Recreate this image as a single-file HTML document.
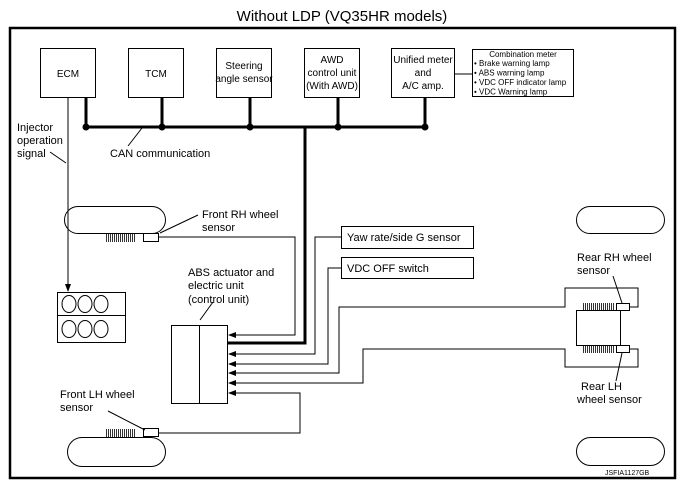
<!DOCTYPE html>
<html><head><style>
html,body{margin:0;padding:0;background:#fff;}
svg{display:block;font-family:"Liberation Sans",Arial,sans-serif;}
</style></head><body>
<svg width="685" height="489" viewBox="0 0 685 489" xmlns="http://www.w3.org/2000/svg">
<defs><marker id="ar" markerWidth="8" markerHeight="6" refX="7" refY="3" orient="auto" markerUnits="userSpaceOnUse"><path d="M0,0 L8,3 L0,6z" fill="#000"/></marker></defs>
<text x="342" y="21" font-size="15" text-anchor="middle">Without LDP (VQ35HR models)</text>
<rect x="10" y="28" width="665" height="450" fill="none" stroke="#000" stroke-width="2.5"/>
<g fill="#fff" stroke="#000" stroke-width="1">
<rect x="40.5" y="48.5" width="55" height="49"/>
<rect x="128.5" y="48.5" width="55" height="49"/>
<rect x="216.5" y="48.5" width="55" height="49"/>
<rect x="304.5" y="48.5" width="55" height="49"/>
<rect x="391.5" y="48.5" width="63" height="49"/>
<rect x="472.5" y="49.5" width="101" height="47"/>
</g>
<g font-size="10" text-anchor="middle">
<text x="68" y="77">ECM</text>
<text x="156" y="77">TCM</text>
<text x="244" y="69">Steering</text><text x="244" y="82">angle sensor</text>
<text x="332" y="63">AWD</text><text x="332" y="76">control unit</text><text x="332" y="89">(With AWD)</text>
<text x="423" y="63">Unified meter</text><text x="423" y="76">and</text><text x="423" y="89">A/C amp.</text>
</g>
<g font-size="8">
<text x="523" y="57" text-anchor="middle">Combination meter</text>
<text x="474" y="66">• Brake warning lamp</text>
<text x="474" y="75.5">• ABS warning lamp</text>
<text x="474" y="85">• VDC OFF indicator lamp</text>
<text x="474" y="94.5">• VDC Warning lamp</text>
</g>
<line x1="455" y1="74" x2="472" y2="74" stroke="#000"/>
<g stroke="#000" stroke-width="3" fill="none">
<line x1="86" y1="127" x2="425" y2="127"/>
<line x1="86" y1="97" x2="86" y2="127"/>
<line x1="162" y1="97" x2="162" y2="127"/>
<line x1="250" y1="97" x2="250" y2="127"/>
<line x1="338" y1="97" x2="338" y2="127"/>
<line x1="425" y1="97" x2="425" y2="127"/>
<polyline points="305,127 305,343 227,343"/>
</g>
<g fill="#000"><circle cx="86" cy="127" r="3.5"/><circle cx="162" cy="127" r="3.5"/><circle cx="250" cy="127" r="3.5"/><circle cx="338" cy="127" r="3.5"/><circle cx="425" cy="127" r="3.5"/></g>
<g font-size="11">
<text x="17" y="131">Injector</text><text x="17" y="144">operation</text><text x="17" y="157">signal</text>
<text x="110" y="157">CAN communication</text>
<text x="202" y="218">Front RH wheel</text><text x="202" y="231">sensor</text>
<text x="188" y="276">ABS actuator and</text><text x="188" y="289">electric unit</text><text x="188" y="303">(control unit)</text>
<text x="60" y="398">Front LH wheel</text><text x="60" y="411">sensor</text>
<text x="577" y="261">Rear RH wheel</text><text x="577" y="274">sensor</text>
<text x="581" y="390">Rear LH</text><text x="577" y="403">wheel sensor</text>
<text x="347" y="241">Yaw rate/side G sensor</text>
<text x="347" y="272">VDC OFF switch</text>
</g>
<text x="605" y="475" font-size="7">JSFIA1127GB</text>
<g stroke="#000" stroke-width="1" fill="none">
<line x1="50" y1="152" x2="66" y2="163"/>
<line x1="128" y1="146" x2="142" y2="128"/>
<line x1="68" y1="97" x2="68" y2="291" marker-end="url(#ar)"/>
<rect x="57.5" y="292.5" width="68" height="50" fill="#fff"/>
<line x1="57.5" y1="315.5" x2="125.5" y2="315.5"/>
<ellipse cx="69" cy="304" rx="7" ry="8.5"/><ellipse cx="85" cy="304" rx="7" ry="8.5"/><ellipse cx="101" cy="304" rx="7" ry="8.5"/>
<ellipse cx="69" cy="329" rx="7" ry="8.5"/><ellipse cx="85" cy="329" rx="7" ry="8.5"/><ellipse cx="101" cy="329" rx="7" ry="8.5"/>
<rect x="64.5" y="206.5" width="101" height="27" rx="13.5"/>
<rect x="67.5" y="437.5" width="98" height="29" rx="14.5"/>
<rect x="576.5" y="206.5" width="88" height="27" rx="13.5"/>
<rect x="576.5" y="437.5" width="88" height="28" rx="14"/>
<rect x="143.5" y="233.5" width="15" height="8" fill="#fff"/>
<rect x="143.5" y="428.5" width="15" height="8" fill="#fff"/>
<rect x="171.5" y="325.5" width="56" height="78"/>
<line x1="199.5" y1="325.5" x2="199.5" y2="403.5"/>
<line x1="200" y1="320" x2="213" y2="302"/>
<line x1="160" y1="233" x2="198" y2="215"/>
<line x1="108" y1="411" x2="145" y2="430"/>
<polyline points="158,237 295,237 295,335 229,335" marker-end="url(#ar)"/>
<rect x="341.5" y="226.5" width="132" height="22"/>
<rect x="341.5" y="257.5" width="132" height="21"/>
<polyline points="341,237 315,237 315,354 229,354" marker-end="url(#ar)"/>
<polyline points="341,268 328,268 328,364 229,364" marker-end="url(#ar)"/>
<polyline points="630,307 638,307 638,288 565,288 565,307 339,307 339,373 229,373" marker-end="url(#ar)"/>
<polyline points="630,349 638,349 638,367 565,367 565,349 363,349 363,383 229,383" marker-end="url(#ar)"/>
<polyline points="158,433 300,433 300,393 229,393" marker-end="url(#ar)"/>
<rect x="576.5" y="310.5" width="44" height="35"/>
<rect x="616.5" y="303.5" width="13" height="7" fill="#fff"/>
<rect x="616.5" y="345.5" width="13" height="7" fill="#fff"/>
<line x1="613" y1="276" x2="622" y2="303"/>
<line x1="622" y1="353" x2="616" y2="381"/>
</g>
<g stroke="#000" stroke-width="0.8">
<path d="M106.5,234v8M108.5,234v8M110.5,234v8M112.5,234v8M114.5,234v8M116.5,234v8M118.5,234v8M120.5,234v8M122.5,234v8M124.5,234v8M126.5,234v8M128.5,234v8M130.5,234v8M132.5,234v8M134.5,234v8"/>
<path d="M106.5,429v8M108.5,429v8M110.5,429v8M112.5,429v8M114.5,429v8M116.5,429v8M118.5,429v8M120.5,429v8M122.5,429v8M124.5,429v8M126.5,429v8M128.5,429v8M130.5,429v8M132.5,429v8M134.5,429v8"/>
<path d="M583.5,303v7M585.5,303v7M587.5,303v7M589.5,303v7M591.5,303v7M593.5,303v7M595.5,303v7M597.5,303v7M599.5,303v7M601.5,303v7M603.5,303v7M605.5,303v7M607.5,303v7M609.5,303v7M611.5,303v7M613.5,303v7"/>
<path d="M583.5,346v7M585.5,346v7M587.5,346v7M589.5,346v7M591.5,346v7M593.5,346v7M595.5,346v7M597.5,346v7M599.5,346v7M601.5,346v7M603.5,346v7M605.5,346v7M607.5,346v7M609.5,346v7M611.5,346v7M613.5,346v7"/>
</g>
</svg>
</body></html>
